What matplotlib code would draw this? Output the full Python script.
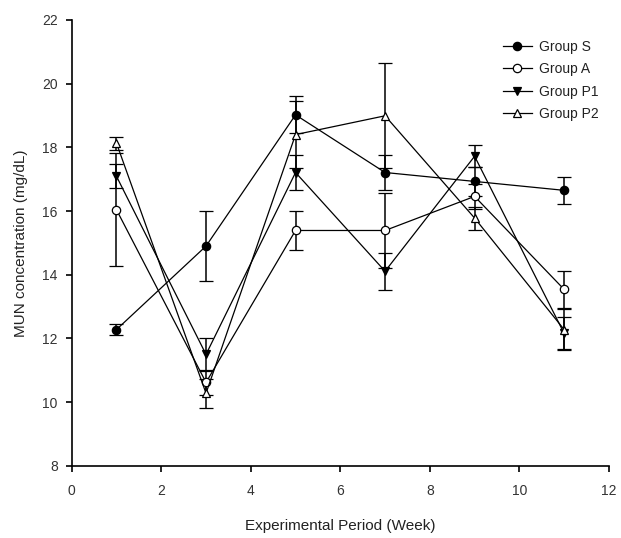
import matplotlib.pyplot as plt

plt.rcParams['font.family'] = ['Liberation Sans', 'DejaVu Sans']

# Weeks of the experimental period
weeks = [1, 3, 5, 7, 9, 11]

# MUN concentration (mg/dL) means and error bars per group
group_s = [12.28, 14.90, 19.02, 17.21, 16.93, 16.65]
group_s_err = [0.18, 1.10, 0.58, 0.56, 0.45, 0.43]
group_a = [16.04, 10.62, 15.39, 15.39, 16.46, 13.54]
group_a_err = [1.77, 0.40, 0.60, 1.18, 0.40, 0.57]
group_p1 = [17.09, 11.50, 17.21, 14.11, 17.72, 12.16]
group_p1_err = [0.38, 0.52, 0.56, 0.58, 0.34, 0.50]
group_p2 = [18.13, 10.28, 18.40, 18.99, 15.78, 12.28]
group_p2_err = [0.20, 0.45, 1.06, 1.65, 0.36, 0.63]

labels = ["Group S", "Group A", "Group P1", "Group P2"]

fig = plt.figure(figsize=(6.21, 5.38), dpi=100)
ax = fig.add_axes([0.1155, 0.134, 0.865, 0.829])

series = [
    (group_s, group_s_err, 'o', 'black'),
    (group_a, group_a_err, 'o', 'white'),
    (group_p1, group_p1_err, 'v', 'black'),
    (group_p2, group_p2_err, '^', 'white'),
]

for (vals, errs, mk, fc), lab in zip(series, labels):
    ax.errorbar(weeks, vals, yerr=errs, color='black', linewidth=0.9,
                marker=mk, markersize=6, markerfacecolor=fc,
                markeredgecolor='black', markeredgewidth=0.9,
                ecolor='black', elinewidth=1.1, capsize=5, capthick=1.1,
                label=lab)

ax.set_xlim(0, 12)
ax.set_ylim(8, 22)
ax.set_xticks(range(0, 13, 2))
ax.set_yticks(range(8, 23, 2))
ax.tick_params(direction='out', length=4, width=1.2, labelsize=10,
               labelcolor='#333333')
ax.tick_params(axis='x', pad=9)
ax.tick_params(axis='y', pad=6)
ax.spines['top'].set_visible(False)
ax.spines['right'].set_visible(False)
ax.spines['left'].set_linewidth(1.2)
ax.spines['bottom'].set_linewidth(1.2)

ax.set_xlabel("Experimental Period (Week)", fontsize=11, labelpad=15,
              color='#222222')
ax.set_ylabel("MUN concentration (mg/dL)", fontsize=11, labelpad=10,
              color='#222222')

handles, labs = ax.get_legend_handles_labels()
handles = [h[0] for h in handles]
ax.legend(handles, labs, loc='upper right', bbox_to_anchor=(1.004, 0.983),
          frameon=False, fontsize=10, handlelength=2.1, handletextpad=0.5,
          labelspacing=0.6, labelcolor='#222222')

fig.savefig("out.png", dpi=100)
